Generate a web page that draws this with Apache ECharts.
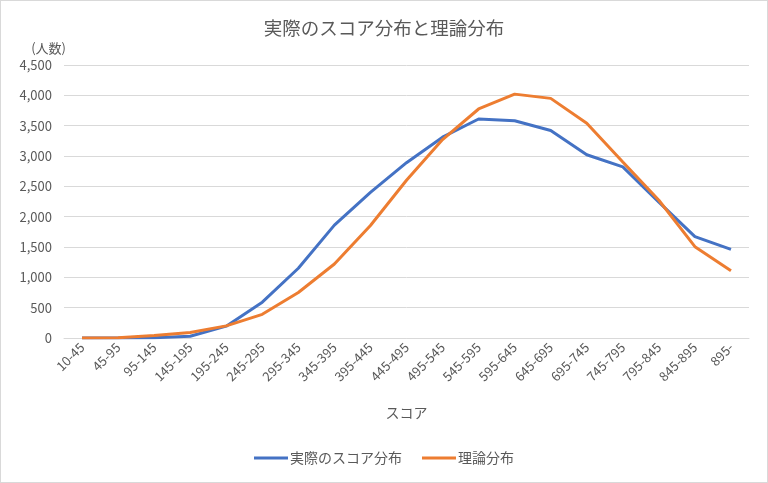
<!DOCTYPE html>
<html>
<head>
<meta charset="utf-8">
<script src="https://cdn.jsdelivr.net/npm/echarts@6/dist/echarts.min.js"></script>
<style>
html,body{margin:0;padding:0;background:#fff;}
#wrap{position:absolute;left:0;top:0;width:766px;height:481px;border:1px solid #d9d9d9;}
#chart{width:766px;height:481px;}
</style>
</head>
<body>
<div id="wrap"><div id="chart"></div></div>
<script>
const titleText = "実際のスコア分布と理論分布";
const yAxisName = "(人数)";
const xAxisName = "スコア";
const categories = ["10-45","45-95","95-145","145-195","195-245","245-295","295-345","345-395","395-445","445-495","495-545","545-595","595-645","645-695","695-745","745-795","795-845","845-895","895-"];
const actualName = "実際のスコア分布";
const actual = [0, 0, 5, 30, 195, 590, 1150, 1860, 2400, 2890, 3310, 3610, 3580, 3420, 3020, 2820, 2240, 1670, 1460];
const theoryName = "理論分布";
const theory = [0, 5, 40, 92, 200, 390, 750, 1220, 1855, 2600, 3270, 3775, 4020, 3950, 3540, 2900, 2270, 1505, 1110];
const yMin = 0, yMax = 4500, yStep = 500;

const FONT = '"Noto Sans CJK JP", "Noto Sans", sans-serif';
const TXT = '#595959';
const chart = echarts.init(document.getElementById('chart'), null, {renderer:'canvas'});
chart.setOption({
  animation:false,
  textStyle:{fontFamily:FONT},
  title:{text:titleText, left:'center', top:13, textStyle:{fontFamily:FONT, fontSize:18.5, fontWeight:'normal', color:TXT}},
  legend:{bottom:12, left:'center', itemWidth:34, itemHeight:3, itemGap:20, icon:'rect',
    textStyle:{fontFamily:FONT, fontSize:14, color:TXT, padding:[0,0,0,-3]},
    data:[actualName, theoryName]},
  grid:{left:63, right:18, top:64, bottom:144, containLabel:false},
  xAxis:{type:'category', data:categories, boundaryGap:true,
    name:xAxisName, nameLocation:'middle', nameGap:68,
    nameTextStyle:{fontFamily:FONT, fontSize:14, color:TXT},
    axisLine:{lineStyle:{color:'#d9d9d9', width:1}},
    axisTick:{show:false},
    axisLabel:{rotate:45, interval:0, fontFamily:FONT, fontSize:13, color:TXT, margin:7}},
  yAxis:{type:'value', min:yMin, max:yMax, interval:yStep,
    name:yAxisName, nameLocation:'end', nameGap:10,
    nameTextStyle:{fontFamily:FONT, fontSize:13, color:TXT, align:'right', padding:[0,-2,0,0]},
    axisLine:{show:false}, axisTick:{show:false},
    splitLine:{lineStyle:{color:'#d9d9d9', width:1}},
    axisLabel:{fontFamily:FONT, fontSize:13, color:TXT, margin:12,
      formatter:v=>v.toLocaleString('en-US')}},
  series:[
    {name:actualName, type:'line', data:actual, symbol:'none', lineStyle:{color:'#4472C4', width:3}, itemStyle:{color:'#4472C4'}},
    {name:theoryName, type:'line', data:theory, symbol:'none', lineStyle:{color:'#ED7D31', width:3}, itemStyle:{color:'#ED7D31'}}
  ]
});
</script>
</body>
</html>
